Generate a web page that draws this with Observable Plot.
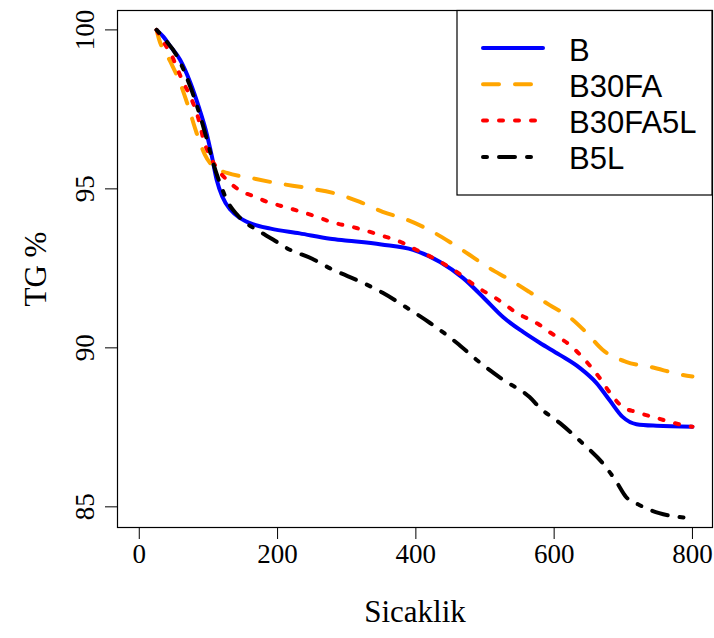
<!DOCTYPE html>
<html>
<head>
<meta charset="utf-8">
<script src="https://cdn.jsdelivr.net/npm/d3@7"></script>
<script src="https://cdn.jsdelivr.net/npm/@observablehq/plot@0.6"></script>
<style>
  html, body { margin: 0; padding: 0; background: white; }
</style>
</head>
<body>
<div id="chart"></div>
<script>
// ---- Data ----
const seriesNames = ["B", "B30FA", "B30FA5L", "B5L"];
const seriesColors = ["blue", "orange", "red", "black"];
const seriesDash = [null, "16,16", "4,12", "4,12,16,12"];

const B_T  = [25, 35, 45, 59, 74, 86, 96, 105, 112, 120, 132, 146, 165, 190, 232, 276, 302, 350, 396, 435, 468, 497, 526, 555, 579, 608, 637, 661, 680, 699, 719, 748, 800];
const B_TG = [100, 99.78, 99.48, 99.06, 98.33, 97.58, 96.86, 96.02, 95.28, 94.76, 94.34, 94.08, 93.88, 93.75, 93.6, 93.43, 93.37, 93.25, 93.08, 92.7, 92.2, 91.6, 90.97, 90.5, 90.16, 89.78, 89.37, 88.9, 88.36, 87.83, 87.6, 87.55, 87.52];

const B30FA_T  = [25, 28, 45, 59, 71, 83, 95, 107, 127, 160, 199, 242, 281, 319, 352, 387, 420, 449, 478, 507, 536, 564, 593, 622, 647, 670, 704, 739, 786, 800];
const B30FA_TG = [100, 99.75, 99.0, 98.33, 97.58, 96.75, 96.07, 95.7, 95.5, 95.35, 95.18, 95.03, 94.87, 94.59, 94.28, 94.03, 93.7, 93.33, 92.92, 92.5, 92.14, 91.76, 91.35, 90.97, 90.47, 89.94, 89.56, 89.4, 89.15, 89.1];

const B30FA5L_T  = [25, 33, 45, 64, 74, 86, 93, 103, 112, 124, 150, 168, 184, 204, 220, 257, 276, 314, 348, 381, 401, 430, 459, 488, 517, 546, 579, 593, 622, 647, 666, 681, 699, 719, 752, 791, 800];
const B30FA5L_TG = [100, 99.69, 99.27, 98.33, 97.9, 97.17, 96.54, 96.0, 95.66, 95.34, 94.9, 94.75, 94.6, 94.47, 94.37, 94.12, 93.97, 93.77, 93.55, 93.3, 93.08, 92.77, 92.39, 91.92, 91.54, 91.1, 90.72, 90.5, 90.1, 89.56, 89.05, 88.58, 88.14, 87.98, 87.77, 87.55, 87.52];

const B5L_T  = [25, 35, 54, 74, 98, 107, 117, 129, 141, 150, 170, 194, 213, 250, 276, 324, 352, 387, 420, 459, 488, 526, 564, 580, 608, 641, 670, 690, 704, 723, 752, 791, 800];
const B5L_TG = [100, 99.75, 99.2, 98.2, 96.54, 95.8, 95.16, 94.55, 94.2, 94.0, 93.71, 93.4, 93.14, 92.8, 92.5, 92.04, 91.73, 91.26, 90.79, 90.16, 89.62, 89.0, 88.46, 88.1, 87.64, 87.0, 86.38, 85.79, 85.31, 85.06, 84.8, 84.65, 84.62];

const xTicks = [0, 200, 400, 600, 800];
const yTicks = [85, 90, 95, 100];
const xLabel = "Sicaklik";
const yLabel = "TG %";

// ---- Build tables ----
const temps = [B_T, B30FA_T, B30FA5L_T, B5L_T];
const vals = [B_TG, B30FA_TG, B30FA5L_TG, B5L_TG];
const tables = temps.map((T, k) => T.map((t, i) => ({t, v: vals[k][i]})));

const serif = "'Liberation Serif', 'Times New Roman', serif";
const sans = "'Liberation Sans', Arial, sans-serif";

const lineMarks = tables.map((data, k) => Plot.line(data, {
  x: "t", y: "v",
  stroke: seriesColors[k],
  strokeWidth: 4,
  strokeDasharray: seriesDash[k] || undefined,
  strokeLinecap: "round",
  strokeLinejoin: "round",
  curve: "monotone-x"
}));

const chart = Plot.plot({
  width: 714,
  height: 638,
  marginLeft: 117,
  marginRight: 2,
  marginTop: 10,
  marginBottom: 111,
  style: {fontFamily: serif, fontSize: "27px", color: "black", background: "white"},
  x: {domain: [-31.5, 829]},
  y: {domain: [84.35, 100.61]},
  marks: [
    Plot.axisX({ticks: xTicks, tickSize: 12, tickPadding: 4, fontSize: 27, label: null}),
    Plot.axisY({ticks: yTicks, tickSize: 12, tickFormat: () => "", label: null}),
    Plot.text(yTicks, {y: d => d, text: d => String(d), frameAnchor: "left", dx: -32, rotate: -90, fontSize: 27, textAnchor: "middle", lineAnchor: "middle"}),
    Plot.text([xLabel], {text: d => d, frameAnchor: "bottom", dy: 85, fontSize: 31, textAnchor: "middle", lineAnchor: "middle"}),
    Plot.text([yLabel], {text: d => d, frameAnchor: "left", dx: -81, rotate: -90, fontSize: 31, textAnchor: "middle", lineAnchor: "middle"}),
    ...lineMarks,
    Plot.frame({stroke: "black", strokeWidth: 1.2})
  ]
});

// ---- Legend (top-right box, R style) ----
const svg = d3.select(chart);
const lg = svg.append("g").attr("text-anchor", "start");
const lx = 457, ly = 10.5, lw = 255, lh = 184.5;
lg.append("rect").attr("x", lx).attr("y", ly).attr("width", lw).attr("height", lh)
  .attr("fill", "white").attr("stroke", "black").attr("stroke-width", 1.2);
seriesNames.forEach((name, k) => {
  const yy = 48 + k * 36.3;
  const ln = lg.append("line").attr("x1", 483).attr("x2", 543).attr("y1", yy).attr("y2", yy)
    .attr("stroke", seriesColors[k]).attr("stroke-width", 4).attr("stroke-linecap", "round");
  if (seriesDash[k]) ln.attr("stroke-dasharray", seriesDash[k]);
  lg.append("text").attr("x", 569).attr("y", yy + 2).attr("dominant-baseline", "central")
    .attr("text-anchor", "start")
    .attr("font-family", sans).attr("font-size", 31).attr("fill", "black").text(name);
});

document.getElementById("chart").appendChild(chart);
</script>
</body>
</html>
